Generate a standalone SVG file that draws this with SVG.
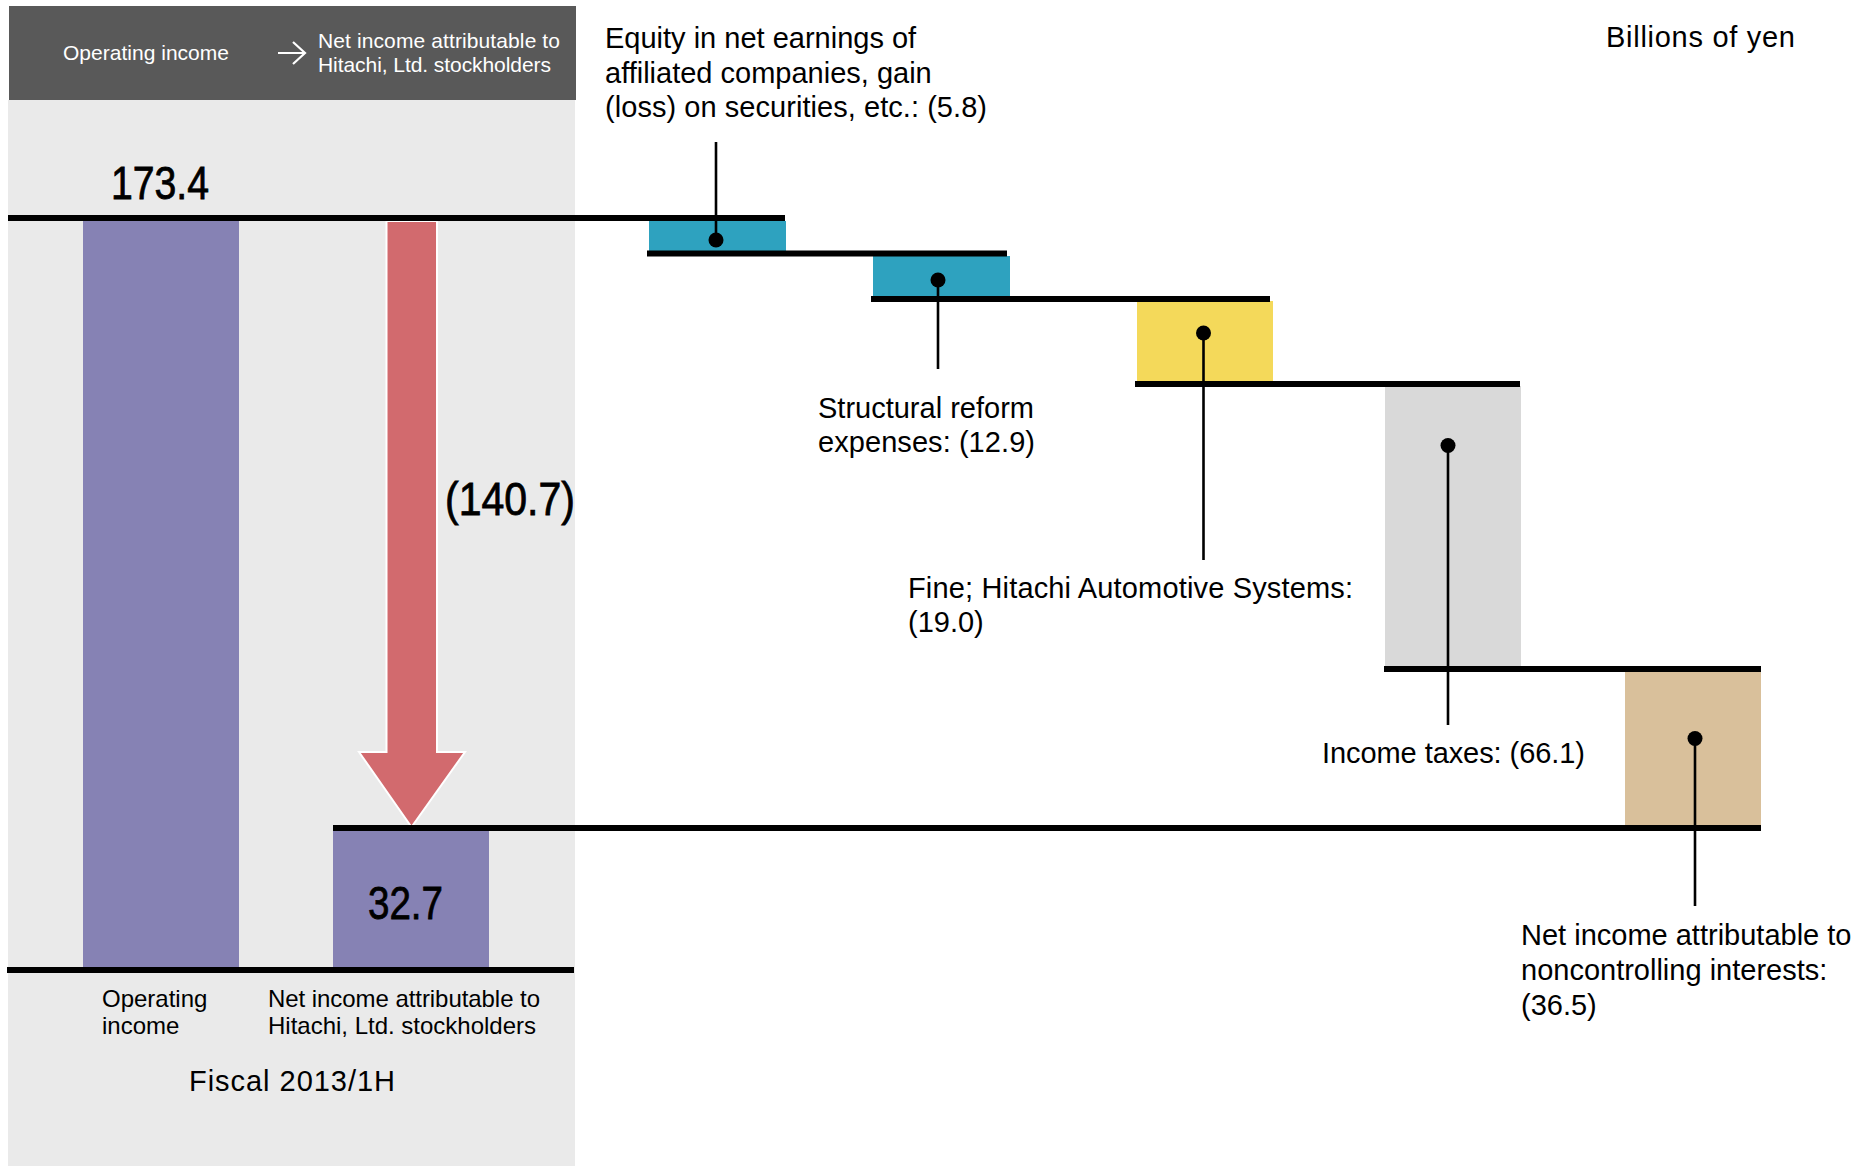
<svg xmlns="http://www.w3.org/2000/svg" width="1862" height="1167" viewBox="0 0 1862 1167">
<style>
.lbl{font-family:"Liberation Sans",Arial,sans-serif;font-size:29px;fill:#000}
.hdr{font-family:"Liberation Sans",Arial,sans-serif;font-size:21px;fill:#fff}
.cat{font-family:"Liberation Sans",Arial,sans-serif;font-size:24px;fill:#000}
.num{font-family:"Liberation Sans Narrow","Liberation Sans",Arial,sans-serif;font-size:46px;fill:#000;stroke:#000;stroke-width:0.8}
.lvl{stroke:#000;stroke-width:6;fill:none}
.lead{stroke:#000;stroke-width:2.6;fill:none}
.dot{fill:#000}
</style>
<rect width="1862" height="1167" fill="#fff"/>
<g id="panel">
<rect x="8" y="100" width="567" height="1066" fill="#EAEAEA"/>
<rect x="9" y="6" width="567" height="94" fill="#595959"/>
<text class="hdr" x="63" y="60" textLength="166" lengthAdjust="spacing">Operating income</text>
<path d="M278,53 H304 M293,42 L305,53 L293,64" stroke="#fff" stroke-width="2.2" fill="none"/>
<text class="hdr" x="318" y="48" textLength="242" lengthAdjust="spacing">Net income attributable to</text>
<text class="hdr" x="318" y="72" textLength="233" lengthAdjust="spacing">Hitachi, Ltd. stockholders</text>
</g>
<g id="unit"><text class="lbl" x="1606" y="47" font-size="30" textLength="189" lengthAdjust="spacing">Billions of yen</text></g>
<g id="operating-income">
<rect x="83" y="221" width="156" height="747" fill="#8682B4"/>
<text class="num" x="111" y="199" textLength="98" lengthAdjust="spacingAndGlyphs">173.4</text>
<text class="cat" x="102" y="1007">Operating</text>
<text class="cat" x="102" y="1034">income</text>
</g>
<g id="decrease-arrow">
<path d="M386.5,221 V752 H359 L411.5,827 L465,752 H437 V221 Z" fill="#D26A6E" stroke="#fff" stroke-width="2"/>
<text class="num" x="445" y="515" textLength="130" lengthAdjust="spacingAndGlyphs">(140.7)</text>
</g>
<g id="net-income">
<rect x="333" y="830" width="156" height="138" fill="#8682B4"/>
<text class="num" x="368" y="919" textLength="75" lengthAdjust="spacingAndGlyphs">32.7</text>
<text class="cat" x="268" y="1007" textLength="272" lengthAdjust="spacing">Net income attributable to</text>
<text class="cat" x="268" y="1034" textLength="268" lengthAdjust="spacing">Hitachi, Ltd. stockholders</text>
</g>
<g id="fiscal"><text class="lbl" x="189" y="1091" font-size="30.5" textLength="206" lengthAdjust="spacing">Fiscal 2013/1H</text></g>
<g id="equity">
<rect x="649" y="221" width="137" height="31" fill="#2EA2BF"/>
<text class="lbl" x="605" y="48">Equity in net earnings of</text>
<text class="lbl" x="605" y="82.5">affiliated companies, gain</text>
<text class="lbl" x="605" y="117" textLength="382" lengthAdjust="spacing">(loss) on securities, etc.: (5.8)</text>
</g>
<g id="structural">
<rect x="873" y="256" width="137" height="42" fill="#2EA2BF"/>
<text class="lbl" x="818" y="418">Structural reform</text>
<text class="lbl" x="818" y="452" textLength="217" lengthAdjust="spacing">expenses: (12.9)</text>
</g>
<g id="fine">
<rect x="1137" y="301" width="136" height="82" fill="#F4D95A"/>
<text class="lbl" x="908" y="598" textLength="445" lengthAdjust="spacing">Fine; Hitachi Automotive Systems:</text>
<text class="lbl" x="908" y="632">(19.0)</text>
</g>
<g id="taxes">
<rect x="1385" y="386" width="136" height="282" fill="#D9D9D9"/>
<text class="lbl" x="1322" y="763" textLength="263" lengthAdjust="spacing">Income taxes: (66.1)</text>
</g>
<g id="noncontrolling">
<rect x="1625" y="671" width="136" height="156" fill="#D9C09B"/>
<text class="lbl" x="1521" y="945">Net income attributable to</text>
<text class="lbl" x="1521" y="980">noncontrolling interests:</text>
<text class="lbl" x="1521" y="1015">(36.5)</text>
</g>
<g id="levels">
<line class="lvl" x1="8" y1="218" x2="785" y2="218"/>
<line class="lvl" x1="647" y1="253.5" x2="1007" y2="253.5"/>
<line class="lvl" x1="871" y1="299" x2="1270" y2="299"/>
<line class="lvl" x1="1135" y1="384" x2="1520" y2="384"/>
<line class="lvl" x1="1384" y1="669" x2="1761" y2="669"/>
<line class="lvl" x1="333" y1="828" x2="1761" y2="828"/>
<line class="lvl" x1="7" y1="970" x2="574" y2="970"/>
</g>
<g id="connectors">
<line class="lead" x1="716" y1="142" x2="716" y2="240"/><circle class="dot" cx="716" cy="240" r="7.5"/>
<line class="lead" x1="938" y1="280" x2="938" y2="369"/><circle class="dot" cx="938" cy="280" r="7.5"/>
<line class="lead" x1="1203.5" y1="333" x2="1203.5" y2="560"/><circle class="dot" cx="1203.5" cy="333" r="7.5"/>
<line class="lead" x1="1448" y1="445.5" x2="1448" y2="725"/><circle class="dot" cx="1448" cy="445.5" r="7.5"/>
<line class="lead" x1="1695" y1="738.5" x2="1695" y2="906"/><circle class="dot" cx="1695" cy="738.5" r="7.5"/>
</g>
</svg>
